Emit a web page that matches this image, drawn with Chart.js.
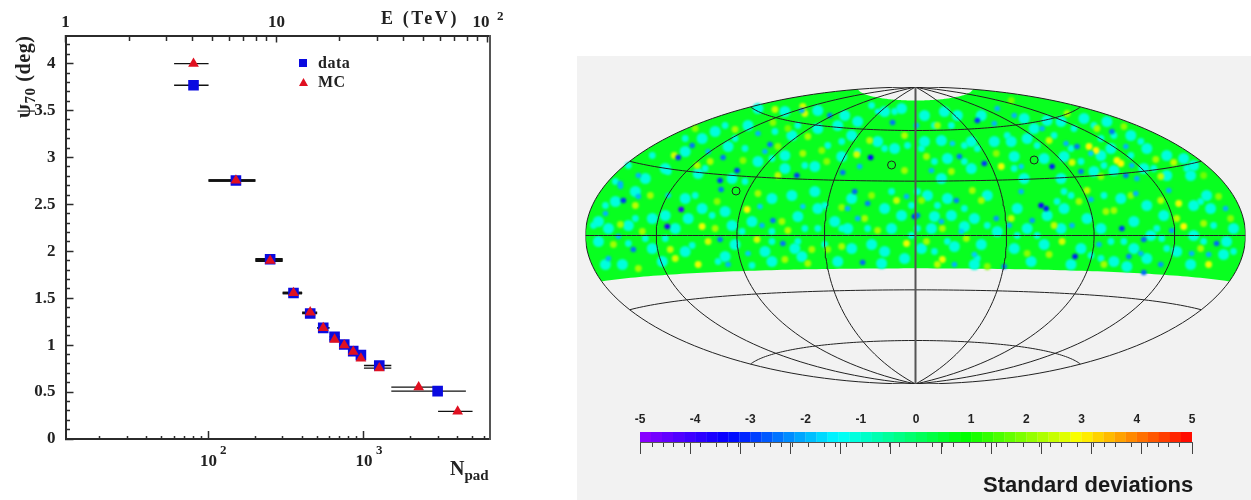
<!DOCTYPE html>
<html>
<head>
<meta charset="utf-8">
<script src="https://cdn.jsdelivr.net/npm/chart.js@4/dist/chart.umd.js"></script>
<style>
  html, body { margin: 0; padding: 0; background: #fff; overflow: hidden; }
  #stage { position: relative; width: 1251px; height: 500px; overflow: hidden; }
  #panel { position: absolute; left: 577px; top: 56px; width: 674px; height: 444px; background: #f2f2f2; }
  canvas { position: absolute; }
  .t { position: absolute; white-space: nowrap; font-family: "Liberation Serif", serif; font-weight: bold; color: #222; line-height: 1; }
  .t sub { font-size: 0.75em; vertical-align: -0.3em; line-height: 0; }
  .s { font-family: "Liberation Sans", sans-serif; }
</style>
</head>
<body>
<div id="stage">
  <div id="panel"></div>
  <canvas id="psfChart" width="570" height="500" style="left:0;top:0"></canvas>
  <canvas id="skyChart" width="674" height="344" style="left:577px;top:56px"></canvas>
  <canvas id="barChart" width="674" height="70" style="left:577px;top:405px"></canvas>

  <div class="t" style="left:13px;top:118px;font-size:20px;letter-spacing:0.6px;transform:rotate(-90deg);transform-origin:0 0">&psi;<sub>70</sub> (deg)</div>
  <div class="t" style="left:381px;top:9px;font-size:18px;letter-spacing:2.6px">E (TeV)</div>
  <div class="t" style="left:497px;top:9px;font-size:13px">2</div>
  <div class="t" style="left:220px;top:443px;font-size:13px">2</div>
  <div class="t" style="left:376px;top:443px;font-size:13px">3</div>
  <div class="t" style="left:450px;top:458px;font-size:20px">N<sub>pad</sub></div>
  <div class="t" style="left:318px;top:55px;font-size:16px;letter-spacing:0.5px">data</div>
  <div class="t" style="left:318px;top:74px;font-size:16px;letter-spacing:0.5px">MC</div>
  <div style="position:absolute;left:299px;top:59px;width:8px;height:8px;background:#0a0ae0"></div>
  <div style="position:absolute;left:299px;top:78px;width:9px;height:8px;background:#e01020;clip-path:polygon(50% 0,100% 100%,0 100%)"></div>
  <div class="t s" style="left:983px;top:474px;font-size:22px;color:#1a1a1a">Standard deviations</div>
</div>

<script>
// PSF width vs number of pads (left plot)
const dataN = [80, 150, 249, 352, 451, 547, 647, 747, 853, 956, 1255, 2980];
const dataPsi = [3.77, 2.755, 1.915, 1.556, 1.337, 1.184, 1.088, 1.007, 0.936, 0.894, 0.784, 0.51];
const dataLow = [60, 100, 200, 300, 400, 500, 600, 700, 800, 900, 1000, 1500];
const dataHigh = [100, 200, 300, 400, 500, 600, 700, 800, 900, 1000, 1500, 4530];

const mcN = [80, 150, 249, 352, 451, 547, 647, 747, 853, 956, 1255, 2250, 4010];
const mcPsi = [4.0, 2.755, 1.9, 1.556, 1.35, 1.184, 1.06, 1.0, 0.93, 0.858, 0.755, 0.553, 0.294];
const mcLow = [60, 100, 200, 300, 400, 500, 600, 700, 800, 900, 1000, 1500, 3000];
const mcHigh = [100, 200, 300, 400, 500, 600, 700, 800, 900, 1000, 1500, 3000, 5000];

const nMajorTicks = [100, 1000];
const nMinorTicks = [20, 30, 40, 50, 60, 70, 80, 90, 200, 300, 400, 500, 600, 700, 800, 900, 2000, 3000, 4000, 5000, 6000];
const eMajorTicks = [1, 10, 100];
const eMinorTicks = [2, 3, 4, 5, 6, 7, 8, 9, 20, 30, 40, 50, 60, 70, 80, 90];
const psiMajorTicks = [0, 0.5, 1, 1.5, 2, 2.5, 3, 3.5, 4];
const psiMinorTicks = [0.1, 0.2, 0.3, 0.4, 0.6, 0.7, 0.8, 0.9, 1.1, 1.2, 1.3, 1.4, 1.6, 1.7, 1.8, 1.9, 2.1, 2.2, 2.3, 2.4, 2.6, 2.7, 2.8, 2.9, 3.1, 3.2, 3.3, 3.4, 3.6, 3.7, 3.8, 3.9, 4.1, 4.2];

// sky map spots, in projected map units
const blueX = [-45, -193, -238, -146, -224, -158, -86, -114, -23, -38, -179, -119, -196, -73, -56, -151, -208, -278, -296, 1,
  62, 79, 82, 99, 44, 69, 16, 137, 151, 162, 197, 211, 217, 211, 166, 127, 37, 106, 176, 222,
  -235, -249, -293, -278, -311, -143, -154, -195, -196, -298, -283, -308, -133, -53, -61, -48, -68, -1, -156, -113, -248, -168, -188, -58, -9, -296,
  126, 131, 2, 207, 160, 229, 214, 226, 229, 302, 294, 277, 246, 311, 257, 176, 106, 41, 26, 81, 117, 94, 157, 46, 89, 59, 39, 184, 221, 254];
const blueY = [78, 78, 78, 91, 90, 102, 120, 125, 113, 124, 65, 60, 55, 63, 69, 84, 84, 60, 52, 110,
  115, 112, 127, 120, 79, 72, 65, 69, 92, 89, 104, 89, 70, 60, 64, 107, 92, 69, 82, 57,
  26, 9, 35, 39, 22, 15, 10, 46, -4, -1, -14, -23, -8, -27, 44, 32, 27, 19, 29, 29, 40, -18, -29, 17, 39, 49,
  30, 27, 20, 7, -21, -37, -21, -18, -4, -8, -19, -18, -29, 27, 5, 36, 44, 35, 14, 17, 15, 10, 10, 4, -31, -19, -29, -9, 42, 45];
const blueSigma = [-3.5, -2.5, -3, -2.5, -2.5, -2, -2.5, -2, -2.5, -1.5, -3, -3, -3, -2.5, -2, -2, -2, -2, -2, -2,
  -3, -2, -2, -2, -2.5, -3, -2, -3.2, -2, -2.5, -2.5, -2, -2, -2.5, -2.5, -2, -1.8, -1.8, -1.8, -2,
  -4, -3.8, -3, -2, -2, -2.5, -2, -2.5, -2.5, -2, -2.5, -2, -2.5, -2.6, -2.6, -2.4, -2, -3, -1.8, -1.8, -1.8, -1.8, -2, -2, -2, -2,
  -3.6, -3.2, -2.5, -3, -3.2, -2.6, -2.4, -2, -2.6, -2.6, -2, -2, -2.2, -2, -2.2, -2, -2, -2.4, -2, -2.2, -2.2, -2, -2, -1.8, -2.4, -1.8, -2, -2, -2, -2];

const yellowX = [-59, -46, -11, -181, -143, -141, -111, -113, -242, -113, -206, -219, -173, -138, -128, -94, -89, -108, -138, -221, -11,
  174, 181, 202, 206, 86, 157, 134, 182, 209, 241, 259, 246, 22, 11, 36, 81, 152, 96, 186, 289,
  -169, -281, -266, -214, -201, -274, -296, -208, -159, -303, -246, -241, -218, -278, -134, -128, -131, -104, -108, -88, -74, -51, -38, -19, -9, -44, -74, -158, -199,
  269, 264, 262, 294, 286, 246, 147, 134, 27, 22, 96, 57, 66, 27, 51, 11, 139, 172, 164, 199, 191, 216, 289, 112, 189, 6, 72, 316, 304];
const yellowY = [81, 95, 100, 106, 113, 126, 122, 129, 80, 82, 74, 70, 75, 89, 107, 85, 74, 99, 60, 107, 65,
  89, 85, 75, 72, 69, 73, 95, 107, 109, 76, 73, 59, 110, 79, 64, 82, 122, 135, 59, 60,
  26, 30, 40, 9, 7, 4, 11, -6, -4, -9, -14, -23, -29, -33, 14, 5, -24, -14, -28, -14, -11, 17, 5, 35, -8, 40, 28, 42, 34,
  9, 32, 17, -29, -13, 35, -6, -19, -24, -29, 17, 45, 35, 7, -3, -6, 10, 45, 34, 25, 24, 40, 12, -18, -29, 35, -31, 17, 39];
const yellowSigma = [2.6, 2.3, 2.3, 2.2, 2, 2.5, 2.6, 2.6, 2.5, 2.2, 2.3, 2.3, 2, 2, 1.8, 2, 2, 2.2, 2.4, 2, 2.2,
  3, 3, 3, 3, 2.8, 2.6, 2.5, 2.2, 2, 2.2, 2.4, 2.4, 2.2, 2.2, 2.2, 2, 2.2, 1.8, 2, 1.8,
  3, 2.4, 2.2, 2.8, 2.2, 2.2, 2.2, 2.6, 2.6, 2.2, 2.5, 2.6, 2.8, 2.2, 2.2, 2.3, 2.2, 2.2, 2.2, 2, 2.2, 2.2, 2.2, 2.5, 2.8, 2, 2, 2.2, 2,
  3, 2.8, 2.4, 2.8, 2.2, 2.4, 2.6, 2.2, 2.8, 2.4, 2.4, 2.2, 2.2, 2.2, 2.2, 2.2, 2.4, 2.4, 2.2, 2.2, 2.2, 2, 2.2, 2, 2.2, 2, 2, 2, 2];

const cyanX = [-201, -188, -168, -131, -158, -124, -98, -78, -64, -38, -21, -74, -101, -131, -184, -218, -251, -231, -214, -58, -31, -14, -131, -158, -98, -71, -271,
  42, 29, 9, 66, 109, 119, 146, 169, 192, 216, 232, 252, 269, 279, 196, 186, 149, 129, 99, 79, 56, 26, 9, 32, 56, 26, 109, 146, 179, 199, 229, 252, 276, 96, 112, 132,
  -308, -288, -318, -264, -251, -241, -228, -231, -214, -191, -184, -164, -181, -191, -151, -144, -121, -118, -98, -124, -144, -101, -81, -68, -64, -44, -31, -34, -14, -24, -11, -78, -114, -294, -311, -264, -254, -231, -281, -301, -318, -64, -31,
  12, 32, 19, 36, 59, 72, 49, 16, 6, 39, 66, 82, 102, 112, 132, 149, 146, 172, 186, 219, 232, 206, 236, 219, 199, 166, 156, 129, 116, 99, 59, 279, 296, 319, 279, 312, 276, 262, 232, 212, 309, 292, 249];
const cyanY = [104, 89, 110, 80, 74, 100, 107, 110, 100, 94, 87, 79, 69, 67, 57, 62, 67, 84, 97, 114, 124, 127, 124, 127, 125, 120, 57,
  120, 124, 120, 120, 117, 107, 114, 117, 114, 100, 87, 80, 77, 70, 87, 80, 79, 77, 79, 94, 94, 95, 94, 77, 67, 57, 57, 57, 64, 65, 67, 60, 60, 94, 97, 115,
  7, 10, -6, 17, 20, 7, 17, 37, 27, 24, 10, 14, -9, -21, -16, -26, -13, 19, 27, 40, 37, 44, 14, 7, -13, -9, -16, -28, 20, 7, -23, -26, -21, -29, -29, -13, -26, -16, 44, 34, 14, 37, 27,
  40, 37, 19, 20, 17, 40, 9, 7, -13, -11, -9, 4, 27, 7, 20, 27, 7, 17, 7, 14, 30, 37, 0, -13, -26, -13, -29, -9, -26, -13, -29, 30, 27, 7, 0, -6, -29, -16, -23, -31, -19, 40, 20];
const cyanSigma = -1.1;

const cyanFineX = [-311, -323, -281, -271, -288, -251, -221, -204, -174, -144, -111, -98, -91, -74, -91, -118, -144, -164, -198, -224, -24, -4, -48, -4,
  2, 22, 49, 2, 32, 19, 72, 62, 102, 122, 142, 156, 189, 196, 209, 176, 186, 252, 247, 286, 299, 289, 319, 242, 149,
  -248, -264, -231, -191, -181, -171, -144, -111, -88, -74, -31, -21, -44, -58, -8, -288, -301, -211, -171, -141, -118,
  19, 36, 49, 6, 19, 49, 62, 92, 99, 122, 139, 156, 166, 189, 216, 239, 272, 199, 179, 159, 186, 226];
const cyanFineY = [30, 10, 17, -3, -8, -3, 40, 20, 4, 4, 7, 7, 30, 7, -9, -6, -6, -30, -26, -10, 44, 30, 7, 0,
  44, 30, 27, 7, -6, -16, 10, -23, 0, 0, 34, 40, 40, -6, -6, -20, -23, -13, -3, 34, 10, -6, -16, 7, 44,
  64, 80, 97, 110, 97, 87, 77, 70, 90, 94, 87, 124, 130, 84, 90, 70, 54, 67, 54, 104, 110,
  110, 110, 90, 87, 74, 74, 87, 100, 67, 90, 100, 87, 74, 70, 80, 67, 67, 100, 110, 107, 97, 94];

const sourceX = [-24, -180, 119];
const sourceY = [70.5, 44.5, 75.5];

const meridianLons = [-180, -135, -90, -45, 45, 90, 135, 180];
const parallelLats = [-60, -30, 0, 30, 60];
const centreLon = 0;
const coverLatLow = -18;
const coverLatHigh = 80;
const mapHalfW = 331;
const mapHalfH = 148.5;

const colorbarTicks = [-5, -4, -3, -2, -1, 0, 1, 2, 3, 4, 5];
const colorStops = [[-5, 144, 0, 255], [-3.4, 0, 0, 255], [-1.4, 0, 255, 255], [0.9, 0, 255, 0], [2.95, 255, 255, 0], [5, 255, 0, 0]];

function sigmaColor(s) {
  for (let i = 1; i < colorStops.length; i++) {
    const a = colorStops[i - 1], b = colorStops[i];
    if (s <= b[0]) {
      const t = Math.max(0, (s - a[0]) / (b[0] - a[0]));
      return "rgb(" + [1, 2, 3].map(k => Math.round(a[k] + (b[k] - a[k]) * t)).join(",") + ")";
    }
  }
  return "rgb(255,0,0)";
}

function hammer(lon, lat) {
  const l = lon * Math.PI / 180, p = lat * Math.PI / 180;
  const d = Math.sqrt(1 + Math.cos(p) * Math.cos(l / 2));
  return { x: mapHalfW * Math.cos(p) * Math.sin(l / 2) / d, y: mapHalfH * Math.sin(p) / d };
}

function meridian(lon, from = -90, to = 90) {
  const pts = [];
  for (let lat = from; lat <= to; lat += 2) pts.push(hammer(lon, lat));
  return pts;
}
function parallel(lat) {
  const pts = [];
  for (let lon = -180; lon <= 180; lon += 3) pts.push(hammer(lon, lat));
  return pts;
}

function errorBars(low, high, y) {
  const pts = [];
  low.forEach((lo, i) => {
    pts.push({ x: lo, y: y[i] }, { x: high[i], y: y[i] }, { x: NaN, y: NaN });
  });
  return pts;
}
const zip = (xs, ys) => xs.map((x, i) => ({ x: x, y: ys[i] }));

const setTicks = list => scale => { scale.ticks = list.map(v => ({ value: v })); };
const serifBold = { family: "Liberation Serif", weight: "bold", size: 17 };
const inkAxis = "#2b2b2b";
const thickBins = [1, 2, 3];
const barLine = ctx => thickBins.includes(Math.floor(ctx.p0DataIndex / 3)) ? 2.6 : 1.4;

const nMin = 12, nMax = 6476, eMin = 1, eMax = 102.8, psiMin = 0, psiMax = 4.3;

function minorAxis(type, min, max, pos, list, len) {
  return {
    type: type, min: min, max: max, position: pos,
    afterBuildTicks: setTicks(list),
    border: { color: inkAxis, width: 2 },
    grid: { drawOnChartArea: false, tickLength: len, tickColor: inkAxis, tickWidth: 1.5 },
    ticks: { display: false, autoSkip: false }
  };
}

new Chart(document.getElementById("psfChart"), {
  type: "scatter",
  data: {
    datasets: [
      { label: "MC", data: zip(mcN, mcPsi), order: 1, pointStyle: "triangle", pointRadius: 6.2, pointBackgroundColor: "#e01020", pointBorderWidth: 0 },
      { label: "data", data: zip(dataN, dataPsi), order: 2, pointStyle: "rect", pointRadius: 7.5, pointBackgroundColor: "#0a0ae0", pointBorderWidth: 0 },
      { data: errorBars(mcLow, mcHigh, mcPsi), order: 3, showLine: true, pointRadius: 0, borderColor: "#111", borderWidth: 1.4, segment: { borderWidth: barLine } },
      { data: errorBars(dataLow, dataHigh, dataPsi), order: 4, showLine: true, pointRadius: 0, borderColor: "#111", borderWidth: 1.4, segment: { borderWidth: barLine } }
    ]
  },
  options: {
    responsive: false,
    animation: false,
    events: [],
    layout: { padding: { left: 0, top: 0, right: 80, bottom: 0 } },
    plugins: { legend: { display: false }, tooltip: { enabled: false } },
    scales: {
      x: {
        type: "logarithmic", min: nMin, max: nMax, position: "bottom",
        afterBuildTicks: setTicks(nMajorTicks),
        afterFit: s => { s.height = 61; },
        border: { color: inkAxis, width: 2 },
        grid: { drawOnChartArea: false, tickLength: -8, tickColor: inkAxis, tickWidth: 1.5 },
        ticks: { autoSkip: false, maxRotation: 0, padding: 20, color: "#222", font: serifBold, callback: () => "10" }
      },
      xMinor: minorAxis("logarithmic", nMin, nMax, { y: psiMin }, nMinorTicks, -4),
      xTop: {
        type: "logarithmic", min: eMin, max: eMax, position: "top",
        afterBuildTicks: setTicks(eMajorTicks),
        afterFit: s => { s.height = 35.5; },
        border: { color: "#555", width: 2 },
        grid: { drawOnChartArea: false, tickLength: -7, tickColor: inkAxis, tickWidth: 1.5 },
        ticks: { autoSkip: false, maxRotation: 0, padding: 10, color: "#222", font: serifBold, callback: v => v === 100 ? "10\u00a0\u00a0\u00a0" : String(v) }
      },
      xTopMinor: minorAxis("logarithmic", eMin, eMax, { y: psiMax }, eMinorTicks, 4),
      y: {
        min: psiMin, max: psiMax, position: "left",
        afterBuildTicks: setTicks(psiMajorTicks),
        afterFit: s => { s.width = 65.5; },
        border: { color: inkAxis, width: 2 },
        grid: { drawOnChartArea: false, tickLength: -8, tickColor: inkAxis, tickWidth: 1.5 },
        ticks: { autoSkip: false, padding: 18, color: "#222", font: serifBold, callback: v => String(v) }
      },
      yMinor: minorAxis("linear", psiMin, psiMax, { x: nMin }, psiMinorTicks, -5),
      yRight: {
        min: psiMin, max: psiMax, position: { x: nMax },
        border: { color: "#555", width: 2 },
        grid: { drawOnChartArea: false, drawTicks: false },
        ticks: { display: false }
      }
    }
  }
});

// coverage band outline, walked around once
const coverBand = parallel(coverLatHigh)
  .concat(meridian(180, coverLatLow, coverLatHigh).reverse())
  .concat(parallel(coverLatLow).reverse())
  .concat(meridian(-180, coverLatLow, coverLatHigh));
const lineStyle = { showLine: true, pointRadius: 0, borderColor: "#222", borderWidth: 1, fill: false };

// soften the spots so they run together like the smoothed map
const softSpots = {
  id: "softSpots",
  beforeDatasetDraw(chart, args) {
    const soft = chart.data.datasets[args.index].soft;
    if (soft) chart.ctx.filter = "blur(" + soft + "px)";
  },
  afterDatasetDraw(chart) { chart.ctx.filter = "none"; }
};

new Chart(document.getElementById("skyChart"), {
  type: "scatter",
  plugins: [softSpots],
  data: {
    datasets: [
      { data: zip(sourceX, sourceY), order: 1, pointRadius: 4, pointBackgroundColor: "transparent", pointBorderColor: "#222", pointBorderWidth: 1 },
      Object.assign({ data: meridian(centreLon), order: 2 }, lineStyle, { borderColor: "#555", borderWidth: 2 })
    ].concat(
      meridianLons.map(l => Object.assign({ data: meridian(l), order: 3 }, lineStyle)),
      parallelLats.map(l => Object.assign({ data: parallel(l), order: 3 }, lineStyle)),
      [
        { data: zip(blueX, blueY), soft: 0.8, order: 5, pointRadius: 2.8, pointBorderWidth: 0, pointBackgroundColor: blueSigma.map(sigmaColor) },
        { data: zip(yellowX, yellowY), soft: 1, order: 6, pointRadius: 3.4, pointBorderWidth: 0, pointBackgroundColor: yellowSigma.map(sigmaColor) },
        { data: zip(cyanFineX, cyanFineY), soft: 1, order: 7, pointRadius: 3.4, pointBorderWidth: 0, pointBackgroundColor: cyanFineX.map(() => sigmaColor(cyanSigma)) },
        { data: zip(cyanX, cyanY), soft: 1.2, order: 7, pointRadius: 5.5, pointBorderWidth: 0, pointBackgroundColor: cyanX.map(() => sigmaColor(cyanSigma)) },
        { data: coverBand, order: 8, showLine: true, pointRadius: 0, borderWidth: 0, backgroundColor: "#08ff20", fill: "shape" }
      ]
    )
  },
  options: {
    responsive: false,
    animation: false,
    events: [],
    layout: { padding: { left: 8.5, top: 31, right: 4, bottom: 16 } },
    plugins: { legend: { display: false }, tooltip: { enabled: false } },
    scales: {
      x: { type: "linear", min: -mapHalfW, max: mapHalfW, display: false },
      y: { type: "linear", min: -mapHalfH, max: mapHalfH, display: false }
    }
  }
});

const colorLevels = [];
for (let i = 0; i < 50; i++) colorLevels.push(-4.9 + i * 0.2);
const colorbarMinor = [];
for (let i = 0; i <= 50; i++) if (i % 5) colorbarMinor.push(-5 + i * 0.2);

new Chart(document.getElementById("barChart"), {
  type: "bar",
  data: {
    datasets: [{
      data: colorLevels.map(v => ({ x: v, y: 1 })),
      backgroundColor: colorLevels.map(sigmaColor),
      barPercentage: 1.02, categoryPercentage: 1, borderWidth: 0
    }]
  },
  options: {
    responsive: false,
    animation: false,
    events: [],
    layout: { padding: { left: 63, top: 0, right: 59, bottom: 33 } },
    plugins: { legend: { display: false }, tooltip: { enabled: false } },
    scales: {
      x: {
        type: "linear", min: -5, max: 5, position: "top", offset: false,
        afterBuildTicks: setTicks(colorbarTicks),
        afterFit: s => { s.height = 27; },
        border: { display: false },
        grid: { display: false, drawTicks: false },
        ticks: { autoSkip: false, maxRotation: 0, padding: 5, color: "#222", font: { family: "Liberation Sans", weight: "bold", size: 12 }, callback: v => String(v) }
      },
      xMajor: {
        type: "linear", min: -5, max: 5, position: { y: 0 },
        afterBuildTicks: setTicks(colorbarTicks),
        border: { color: "#555", width: 1 },
        grid: { drawOnChartArea: false, tickLength: 11, tickColor: "#444", tickWidth: 1 },
        ticks: { display: false, autoSkip: false }
      },
      xMinor: {
        type: "linear", min: -5, max: 5, position: { y: 0 },
        afterBuildTicks: setTicks(colorbarMinor),
        border: { display: false },
        grid: { drawOnChartArea: false, tickLength: 5, tickColor: "#444", tickWidth: 1 },
        ticks: { display: false, autoSkip: false }
      },
      y: { min: 0, max: 1, display: false }
    }
  }
});
</script>
</body>
</html>
